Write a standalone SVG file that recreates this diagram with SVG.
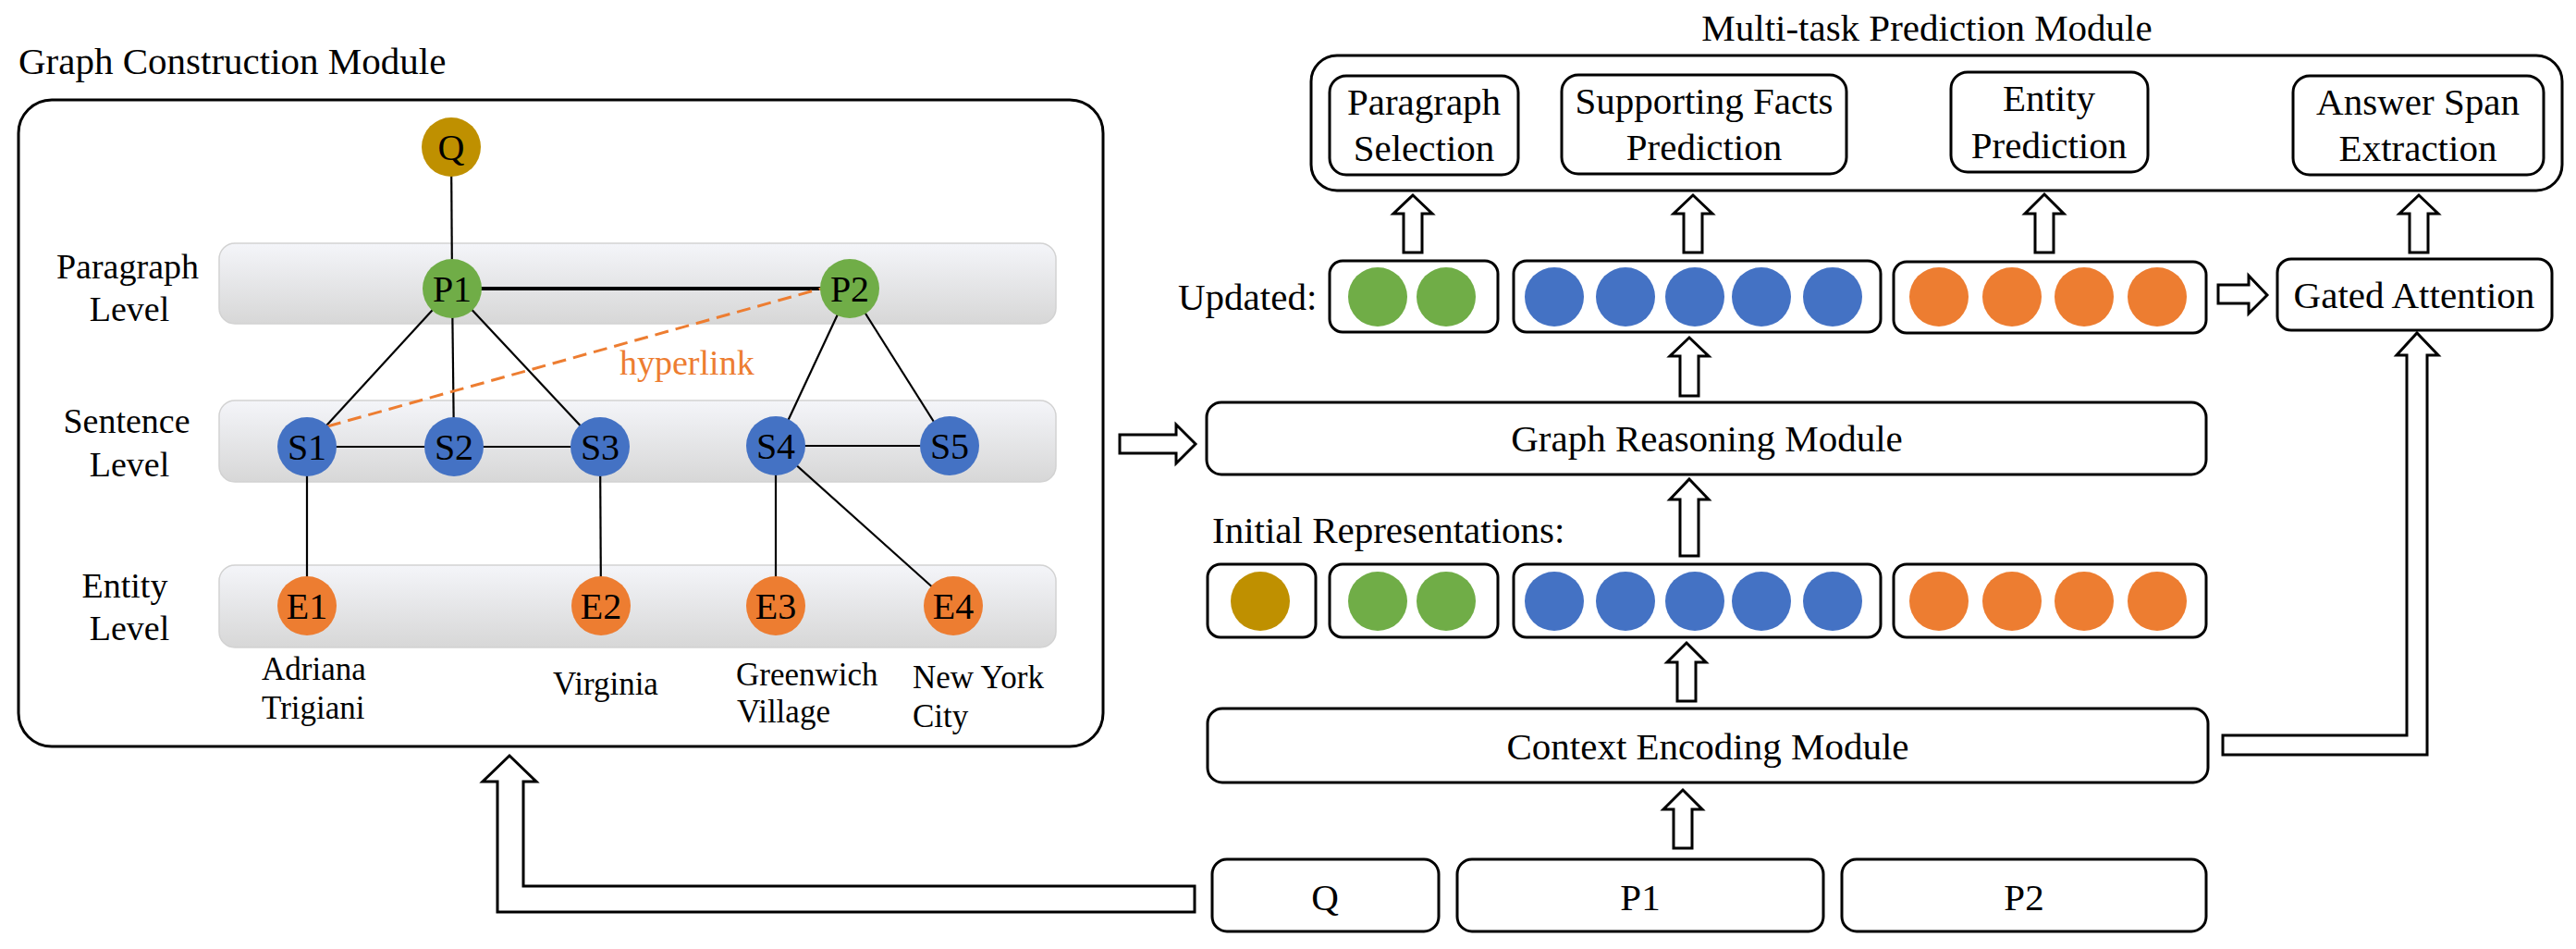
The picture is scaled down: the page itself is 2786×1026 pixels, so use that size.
<svg xmlns="http://www.w3.org/2000/svg" width="2786" height="1026" viewBox="0 0 2786 1026">
<defs>
<linearGradient id="band" x1="0" y1="0" x2="0" y2="1">
<stop offset="0" stop-color="#F4F5F9"/>
<stop offset="1" stop-color="#D7D7D7"/>
</linearGradient>
<style>
text{font-family:"Liberation Serif","Times New Roman",serif;fill:#000}
.t41{font-size:41px}
.t38{font-size:38px}
.t35{font-size:35px}
.mid{text-anchor:middle}
.nl{font-size:40px;text-anchor:middle}
.box{fill:#fff;stroke:#000;stroke-width:3}
.band{fill:url(#band);stroke:#D2D2D2;stroke-width:1.5}
.edge{stroke:#000;stroke-width:2.2;fill:none}
.arr{fill:#fff;stroke:#000;stroke-width:3;stroke-linejoin:miter}
.q{fill:#BF9000}.p{fill:#70AD47}.s{fill:#4472C4}.e{fill:#ED7D31}
</style>
</defs>
<rect width="2786" height="1026" fill="#fff"/>

<!-- Graph construction module -->
<g id="graph-construction">
<text class="t41" x="20" y="80">Graph Construction Module</text>
<rect class="box" x="20" y="108" width="1173" height="699" rx="36"/>
<rect class="band" x="237" y="263" width="905" height="87" rx="17"/>
<rect class="band" x="237" y="433" width="905" height="88" rx="17"/>
<rect class="band" x="237" y="611" width="905" height="89" rx="17"/>
<text class="t38 mid" x="138" y="301">Paragraph</text>
<text class="t38 mid" x="140" y="347">Level</text>
<text class="t38 mid" x="137" y="468">Sentence</text>
<text class="t38 mid" x="140" y="515">Level</text>
<text class="t38 mid" x="135" y="646">Entity</text>
<text class="t38 mid" x="140" y="692">Level</text>
<text class="t35" x="283" y="735">Adriana</text>
<text class="t35" x="283" y="777">Trigiani</text>
<text class="t35" x="598" y="751">Virginia</text>
<text class="t35" x="796" y="741">Greenwich</text>
<text class="t35" x="797" y="781">Village</text>
<text class="t35" x="987" y="744">New York</text>
<text class="t35" x="987" y="786">City</text>
<text class="t38" x="670" y="405" style="fill:#ED7D31">hyperlink</text>
</g>

<g id="graph-edges">
<line class="edge" x1="488" y1="159" x2="489" y2="312"/>
<line class="edge" x1="489" y1="312" x2="919" y2="312" style="stroke-width:4"/>
<line class="edge" x1="489" y1="312" x2="332" y2="483"/>
<line class="edge" x1="489" y1="312" x2="491" y2="483"/>
<line class="edge" x1="489" y1="312" x2="649" y2="483"/>
<line class="edge" x1="919" y1="312" x2="839" y2="483"/>
<line class="edge" x1="919" y1="312" x2="1027" y2="483"/>
<line class="edge" x1="332" y1="483" x2="649" y2="483"/>
<line class="edge" x1="839" y1="482" x2="1027" y2="482"/>
<line class="edge" x1="332" y1="483" x2="332" y2="655"/>
<line class="edge" x1="649" y1="483" x2="650" y2="655"/>
<line class="edge" x1="839" y1="483" x2="839" y2="655"/>
<line class="edge" x1="839" y1="483" x2="1031" y2="655"/>
<line x1="354" y1="461" x2="888" y2="312" stroke="#ED7D31" stroke-width="3" stroke-dasharray="15 8"/>
</g>

<g id="node-Q"><circle class="q" cx="488" cy="159" r="32"/><text class="nl" x="488" y="173">Q</text></g>
<g id="node-P1"><circle class="p" cx="489" cy="312" r="32"/><text class="nl" x="489" y="326">P1</text></g>
<g id="node-P2"><circle class="p" cx="919" cy="312" r="32"/><text class="nl" x="919" y="326">P2</text></g>
<g id="node-S1"><circle class="s" cx="332" cy="483" r="32"/><text class="nl" x="332" y="497">S1</text></g>
<g id="node-S2"><circle class="s" cx="491" cy="483" r="32"/><text class="nl" x="491" y="497">S2</text></g>
<g id="node-S3"><circle class="s" cx="649" cy="483" r="32"/><text class="nl" x="649" y="497">S3</text></g>
<g id="node-S4"><circle class="s" cx="839" cy="482" r="32"/><text class="nl" x="839" y="496">S4</text></g>
<g id="node-S5"><circle class="s" cx="1027" cy="482" r="32"/><text class="nl" x="1027" y="496">S5</text></g>
<g id="node-E1"><circle class="e" cx="332" cy="655" r="32"/><text class="nl" x="332" y="669">E1</text></g>
<g id="node-E2"><circle class="e" cx="650" cy="655" r="32"/><text class="nl" x="650" y="669">E2</text></g>
<g id="node-E3"><circle class="e" cx="839" cy="655" r="32"/><text class="nl" x="839" y="669">E3</text></g>
<g id="node-E4"><circle class="e" cx="1031" cy="655" r="32"/><text class="nl" x="1031" y="669">E4</text></g>

<!-- Multi-task prediction -->
<g id="multi-task">
<text class="t41 mid" x="2084" y="44">Multi-task Prediction Module</text>
<rect class="box" x="1418" y="60" width="1353" height="146" rx="28"/>
</g>
<g id="paragraph-selection"><rect class="box" x="1438" y="82" width="204" height="107" rx="18"/><text class="t41 mid" x="1540" y="124">Paragraph</text><text class="t41 mid" x="1540" y="174">Selection</text></g>
<g id="supporting-facts"><rect class="box" x="1689" y="81" width="308" height="107" rx="18"/><text class="t41 mid" x="1843" y="123">Supporting Facts</text><text class="t41 mid" x="1843" y="173">Prediction</text></g>
<g id="entity-prediction"><rect class="box" x="2110" y="78" width="213" height="108" rx="18"/><text class="t41 mid" x="2216" y="120">Entity</text><text class="t41 mid" x="2216" y="171">Prediction</text></g>
<g id="answer-span"><rect class="box" x="2480" y="82" width="271" height="107" rx="18"/><text class="t41 mid" x="2615" y="124">Answer Span</text><text class="t41 mid" x="2615" y="174">Extraction</text></g>

<!-- Updated representations -->
<g id="updated">
<text class="t41" x="1274" y="335">Updated:</text>
<rect class="box" x="1438" y="282" width="182" height="77" rx="14"/>
<circle class="p" cx="1490" cy="321" r="32"/><circle class="p" cx="1564" cy="321" r="32"/>
<rect class="box" x="1637" y="282" width="397" height="77" rx="14"/>
<circle class="s" cx="1681" cy="321" r="32"/><circle class="s" cx="1758" cy="321" r="32"/><circle class="s" cx="1833" cy="321" r="32"/><circle class="s" cx="1905" cy="321" r="32"/><circle class="s" cx="1982" cy="321" r="32"/>
<rect class="box" x="2048" y="283" width="338" height="77" rx="14"/>
<circle class="e" cx="2097" cy="321" r="32"/><circle class="e" cx="2176" cy="321" r="32"/><circle class="e" cx="2254" cy="321" r="32"/><circle class="e" cx="2333" cy="321" r="32"/>
</g>
<g id="gated-attention"><rect class="box" x="2463" y="280" width="297" height="77" rx="15"/><text class="t41 mid" x="2611" y="333">Gated Attention</text></g>
<g id="graph-reasoning"><rect class="box" x="1305" y="435" width="1081" height="78" rx="16"/><text class="t41 mid" x="1846" y="488">Graph Reasoning Module</text></g>

<!-- Initial representations -->
<g id="initial">
<text class="t41" x="1311" y="587">Initial Representations:</text>
<rect class="box" x="1306" y="610" width="117" height="79" rx="14"/>
<circle class="q" cx="1363" cy="650" r="32"/>
<rect class="box" x="1438" y="610" width="182" height="79" rx="14"/>
<circle class="p" cx="1490" cy="650" r="32"/><circle class="p" cx="1564" cy="650" r="32"/>
<rect class="box" x="1637" y="610" width="397" height="79" rx="14"/>
<circle class="s" cx="1681" cy="650" r="32"/><circle class="s" cx="1758" cy="650" r="32"/><circle class="s" cx="1833" cy="650" r="32"/><circle class="s" cx="1905" cy="650" r="32"/><circle class="s" cx="1982" cy="650" r="32"/>
<rect class="box" x="2048" y="610" width="338" height="79" rx="14"/>
<circle class="e" cx="2097" cy="650" r="32"/><circle class="e" cx="2176" cy="650" r="32"/><circle class="e" cx="2254" cy="650" r="32"/><circle class="e" cx="2333" cy="650" r="32"/>
</g>
<g id="context-encoding"><rect class="box" x="1306" y="766" width="1082" height="80" rx="16"/><text class="t41 mid" x="1847" y="821">Context Encoding Module</text></g>

<g id="input-Q"><rect class="box" x="1311" y="929" width="245" height="78" rx="16"/><text class="t41 mid" x="1433" y="984">Q</text></g>
<g id="input-P1"><rect class="box" x="1576" y="929" width="396" height="78" rx="16"/><text class="t41 mid" x="1774" y="984">P1</text></g>
<g id="input-P2"><rect class="box" x="1992" y="929" width="394" height="78" rx="16"/><text class="t41 mid" x="2189" y="984">P2</text></g>

<!-- connectors -->
<g id="connectors">
<path class="arr" d="M1528,211 L1549,231 L1538,231 L1538,273 L1518,273 L1518,231 L1507,231 Z"/>
<path class="arr" d="M1831,211 L1852,231 L1841,231 L1841,273 L1821,273 L1821,231 L1810,231 Z"/>
<path class="arr" d="M2211,210 L2232,231 L2221,231 L2221,273 L2201,273 L2201,231 L2190,231 Z"/>
<path class="arr" d="M2616,211 L2637,231 L2626,231 L2626,273 L2606,273 L2606,231 L2595,231 Z"/>
<path class="arr" d="M1827,365 L1848,385 L1837,385 L1837,428 L1817,428 L1817,385 L1806,385 Z"/>
<path class="arr" d="M1827,518 L1848,540 L1837,540 L1837,601 L1817,601 L1817,540 L1806,540 Z"/>
<path class="arr" d="M1824,695 L1845,716 L1834,716 L1834,758 L1814,758 L1814,716 L1803,716 Z"/>
<path class="arr" d="M1820,854 L1841,875 L1830,875 L1830,917 L1810,917 L1810,875 L1799,875 Z"/>
<path class="arr" d="M1293,480 L1272,459 L1272,470 L1211,470 L1211,490 L1272,490 L1272,501 Z"/>
<path class="arr" d="M2452,319 L2432,298 L2432,308 L2399,308 L2399,328 L2432,328 L2432,339 Z"/>
<path class="arr" d="M551,817 L580,845 L566,845 L566,958 L1292,958 L1292,986 L538,986 L538,845 L522,845 Z"/>
<path class="arr" d="M2404,795 L2603,795 L2603,384 L2592,384 L2614,360 L2637,384 L2625,384 L2625,816 L2404,816 Z"/>
</g>
</svg>
